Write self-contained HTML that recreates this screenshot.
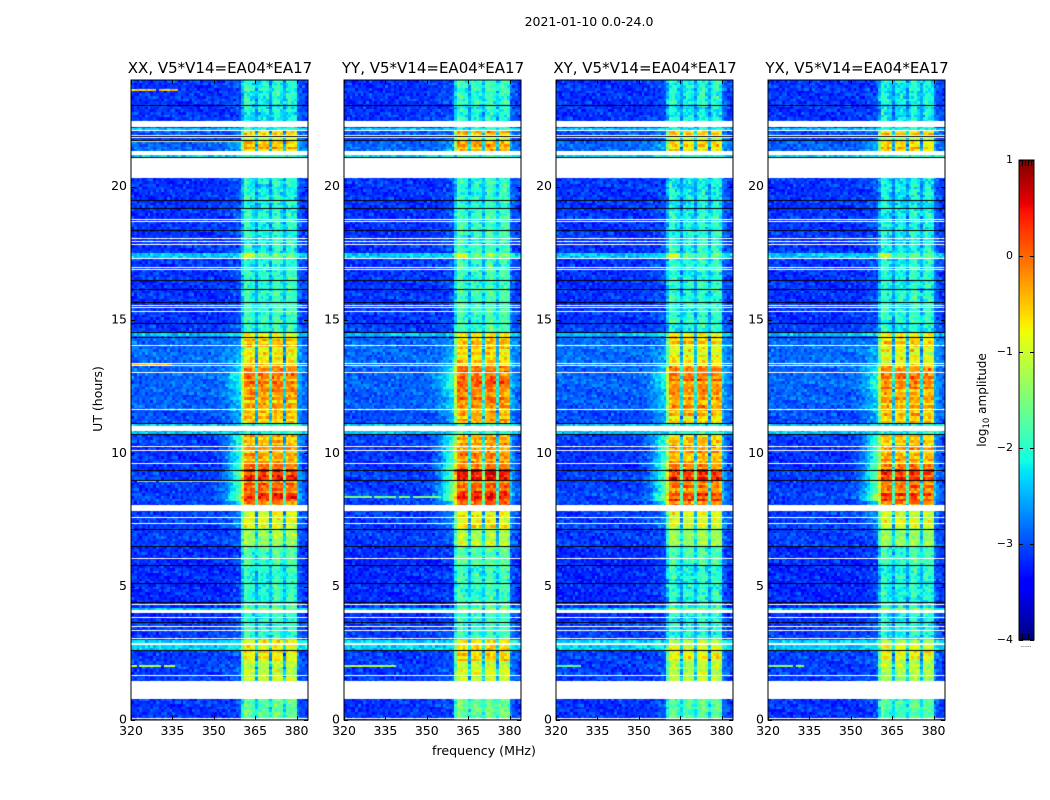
<!DOCTYPE html>
<html lang="en">
<head>
<meta charset="utf-8">
<title>2021-01-10 0.0-24.0</title>
<style>
  html, body { margin: 0; padding: 0; background: #fff; }
  #figure { position: relative; width: 1050px; height: 800px; overflow: hidden; background: #fff; }
  canvas { position: absolute; display: block; }
  #axes-layer { position: absolute; left: 0; top: 0; }
  text { font-family: "DejaVu Sans", "Liberation Sans", sans-serif; fill: #000; }
</style>
</head>
<body>
<div id="figure">
  <canvas id="panel-xx"></canvas>
  <canvas id="panel-yy"></canvas>
  <canvas id="panel-xy"></canvas>
  <canvas id="panel-yx"></canvas>
  <canvas id="colorbar"></canvas>
  <svg id="axes-layer" width="1050" height="800" xmlns="http://www.w3.org/2000/svg">
    <text x="589" y="26" font-size="12.5" text-anchor="middle">2021-01-10 0.0-24.0</text>
    <text x="484" y="755" font-size="12.6" text-anchor="middle">frequency (MHz)</text>
    <text transform="translate(102,399) rotate(-90)" font-size="12.5" text-anchor="middle">UT (hours)</text>
    <text transform="translate(986,400) rotate(-90)" font-size="12" text-anchor="middle">log<tspan font-size="8.5" dy="3">10</tspan><tspan dy="-3"> amplitude</tspan></text>
  </svg>
</div>
<script>
// ---- Panels ----
var panelIds = ['panel-xx', 'panel-yy', 'panel-xy', 'panel-yx'];
var panelTitles = ['XX, V5*V14=EA04*EA17', 'YY, V5*V14=EA04*EA17', 'XY, V5*V14=EA04*EA17', 'YX, V5*V14=EA04*EA17'];
var panelBandOffset = [0, 0.1, -0.05, -0.08];
var panelShoulderGain = [1, 1.2, 1.05, 1.15];

// ---- Ticks ----
var xTickValues = [320, 335, 350, 365, 380];
var yTickValues = [0, 5, 10, 15, 20];
var colorTickValues = [1, 0, -1, -2, -3, -4];

// ---- Time profile (hours, log10 amplitude) ----
var segmentEnd = [0.8, 1.45, 2.2, 2.63, 3.0, 3.66, 4.0, 4.22, 5.8, 6.54, 7.17, 8.02, 8.16, 8.53, 9.0, 9.36, 9.65, 10.3, 10.74, 11.14, 11.6, 12.4, 13.0, 13.35, 14.05, 14.38, 14.54, 14.87, 16.2, 17.33, 17.53, 19.2, 20.32, 21.1, 21.2, 21.33, 21.75, 21.88, 22.11, 22.23, 22.48, 23.1, 24];
var segmentBackground = [-3.13, -3.13, -3.08, -3.08, -2.35, -3.08, -3.18, -2.4, -3.18, -3.18, -3.08, -3.08, -3.08, -3.03, -3.08, -3.08, -3.13, -3.13, -3.08, -2.4, -3.0, -2.92, -2.88, -2.88, -2.85, -2.85, -2.4, -3.08, -3.13, -3.13, -2.4, -3.13, -3.13, -3.08, -2.3, -3.08, -2.9, -3.08, -2.98, -2.4, -3.08, -3.13, -3.13];
var segmentBand = [-1.7, -1.6, -1.15, -0.8, -0.9, -2.0, -2.05, -1.4, -2.0, -1.8, -1.3, -0.95, -0.2, 0.25, -0.1, 0.3, -0.1, -0.4, -0.5, -2.0, -0.55, -0.35, -0.15, -0.2, -0.8, -0.6, -0.95, -2.0, -1.95, -2.0, -1.6, -2.05, -2.1, -2.1, -2.0, -1.0, -0.6, -1.2, -0.55, -2.1, -2.1, -2.15, -2.05];
var segmentShoulder = [0, 0, 0, 0, 0, 0, 0, 0, 0, 0, 0, 0.2, 0.5, 1.2, 1.0, 1.0, 1.0, 0.9, 0.8, 0, 0.25, 0.4, 0.6, 0.4, 0.15, 0, 0, 0, 0, 0, 0, 0, 0, 0, 0, 0, 0.2, 0, 0, 0, 0, 0, 0];
var segmentFirstGroupBoost = [0, 0, 0, 0, 0, 0, 0, 0, 0, 0, 0, 0, 0, 0, 0, 0, 0, 0, 0, 0, 0, 0, 0, 0, 0, 0, 0, 0, 0, 0, 0.6, 0, 0, 0, 0, 0, 0.1, 0, 0, 0, 0, 0, 0];

// ---- Channel profile (1 MHz channels from 320 MHz) ----
var channelBright = [-0.9, 0, 0.05, 0.1, 0, -1.9, 0, 0.05, 0.05, -0.05, -1.8, 0, 0.1, 0.1, 0, -2.0, 0, 0, 0, -0.1];
var channelQuiet = [-0.4, 0.15, 0.1, -0.05, -0.15, -0.5, -0.1, 0, 0, -0.1, -0.45, -0.05, 0.15, 0.15, -0.1, -0.4, -0.05, 0.1, 0.1, -0.05];
var shoulderProfile = [0.03, 0.06, 0.1, 0.17, 0.26, 0.37, 0.5, 0.65, 0.8, 0.9];
var rightEdgeLift = [0.3, 0.18, 0.08, 0.03];

// ---- Row streaks seen across the bright band (log10 offset) ----
var rowStreaks = [0.1, -0.15, 0.2, 0.05, -0.25, 0.15, -0.05, 0.25, -0.2, 0.1, 0, -0.3, 0.2, -0.1, 0.05, 0.25, -0.15, -0.05, 0.15, -0.25, 0.1, 0.2, -0.1, 0, -0.2, 0.3, -0.05];

// ---- Flagged data and dropouts (hours) ----
var flagStart = [0.8, 2.8, 4.0, 7.83, 10.82, 20.32, 21.2, 22.23];
var flagEnd = [1.45, 2.9, 4.11, 8.02, 11.04, 21.1, 21.33, 22.48];
var whiteLines = [0.08, 1.48, 1.68, 3.08, 3.36, 3.54, 3.88, 4.36, 6.08, 7.38, 7.63, 8.08, 9.64, 10.13, 10.28, 11.67, 13.06, 13.32, 13.4, 14.05, 15.35, 15.5, 15.57, 16.92, 16.98, 17.33, 17.86, 17.97, 18.07, 18.7, 18.79, 21.88, 21.94, 22.11];
var blackLines = [2.63, 3.66, 4.42, 5.14, 5.82, 6.54, 7.17, 9.01, 9.36, 10.74, 11.14, 14.38, 14.54, 14.87, 15.68, 16.18, 16.51, 18.38, 19.21, 19.51, 21.12, 21.75, 21.9, 23.07];

// ---- Narrow interference rows: panel, hour, first channel, last channel, value ----
var rfiPanel = [0, 1, 2, 3, 0, 1, 0, 0, 0];
var rfiHour = [2.05, 2.05, 2.05, 2.05, 13.4, 8.4, 9.0, 23.68, 21.75];
var rfiFirst = [0, 0, 0, 0, 0, 0, 2, 0, 0];
var rfiLast = [15, 18, 8, 12, 14, 34, 36, 16, 39];
var rfiValue = [-1.1, -1.2, -1.7, -1.4, -0.4, -1.5, -1.5, -0.5, -0.8];

// ---- Hand-estimated fine grain, indicative of the reference speckle (not cell-exact) ----
var speckleRows = [
  '41708362951740628315947', '72946015382769104857326', '15839274061538297460183',
  '68210593748206915372640', '30975146820473651928705', '94162738059316284710593',
  '27580419367052948136274', '51394862703718250649381', '83026175949361407582916',
  '16749308251984736205148', '49281573604127593860372', '75610942838540162973054',
  '02837416595263801749628', '68495127030816794352160', '31726984559047382615809',
  '97051362846721053986247', '24683710195838426107953'
];

var PLOT_TOP = 80, PLOT_H = 640, PLOT_W = 177;
var panelLeft = [131, 344, 556, 768];
var CB_LEFT = 1019, CB_TOP = 160, CB_W = 15, CB_H = 480;

function xScale(mhz, left) { return left + (mhz - 320) * (PLOT_W - 0.4) / 64; }
function yScale(hour) { return PLOT_TOP + PLOT_H - hour * PLOT_H / 24; }
function colorPosition(v) { return CB_TOP + (1 - v) * CB_H / 5; }

function interp(t, pts) {
  for (var i = 1; i < pts.length; i++) {
    if (t <= pts[i][0]) {
      var a = pts[i - 1], b = pts[i];
      return a[1] + (b[1] - a[1]) * (t - a[0]) / (b[0] - a[0]);
    }
  }
  return pts[pts.length - 1][1];
}
var jetR = [[0, 0], [0.35, 0], [0.66, 1], [0.89, 1], [1, 0.5]];
var jetG = [[0, 0], [0.125, 0], [0.375, 1], [0.64, 1], [0.91, 0], [1, 0]];
var jetB = [[0, 0.5], [0.11, 1], [0.34, 1], [0.65, 0], [1, 0]];
function colorScale(v) {
  var t = Math.max(0, Math.min(1, (v + 4) / 5));
  return 'rgb(' + Math.round(255 * interp(t, jetR)) + ',' + Math.round(255 * interp(t, jetG)) + ',' + Math.round(255 * interp(t, jetB)) + ')';
}

function segmentIndex(hour) {
  for (var i = 0; i < segmentEnd.length; i++) { if (hour < segmentEnd[i]) return i; }
  return segmentEnd.length - 1;
}
function grainDigit(row, ch, panel) {
  var s = speckleRows[(row * 5 + ch * 3 + panel * 5) % speckleRows.length];
  return s.charCodeAt((ch * 7 + panel * 7 + row * 11) % s.length) - 48;
}
function speckle(row, ch, panel) {
  var a = grainDigit(row, ch, panel);
  var b = grainDigit(row + 6, ch + 13, panel + 1);
  return (a + b - 9) * 0.04;
}
function cellValue(panel, row, ch) {
  var hour = (row + 0.5) / 10;
  var i = segmentIndex(hour);
  var bg = segmentBackground[i];
  var band = segmentBand[i] + panelBandOffset[panel];
  var grain = speckle(row, ch, panel);
  var v;
  if (ch >= 40 && ch < 60) {
    var bi = ch - 40;
    var mix = Math.max(0, Math.min(1, (band + 1.6) / 0.8));
    var off = channelBright[bi] * mix + channelQuiet[bi] * (1 - mix);
    if (bi < 5) off += segmentFirstGroupBoost[i];
    var streak = rowStreaks[(row + panel * 3) % rowStreaks.length] * (0.25 + 0.75 * mix);
    v = Math.max(band + off + streak, bg + 0.2) + grain * 1.2;
  } else if (ch >= 60) {
    v = bg + rightEdgeLift[ch - 60] * (1 + segmentShoulder[i]) + grain;
  } else {
    v = bg + grain;
    if (ch >= 30) {
      var s = segmentShoulder[i] * panelShoulderGain[panel];
      v += shoulderProfile[ch - 30] * s * 1.25;
      v += shoulderProfile[ch - 30] * 0.15;
    }
  }
  return v;
}

function drawPanel(panel) {
  var c = document.getElementById(panelIds[panel]);
  var left = panelLeft[panel];
  c.width = PLOT_W; c.height = PLOT_H;
  c.style.left = left + 'px';
  c.style.top = PLOT_TOP + 'px';
  var g = c.getContext('2d');
  for (var row = 0; row < 240; row++) {
    var y0 = Math.round(yScale((row + 1) / 10)) - PLOT_TOP;
    var y1 = Math.round(yScale(row / 10)) - PLOT_TOP;
    for (var ch = 0; ch < 64; ch++) {
      var x0 = Math.round(xScale(320 + ch, left)) - left;
      var x1 = Math.round(xScale(321 + ch, left)) - left;
      g.fillStyle = colorScale(cellValue(panel, row, ch));
      g.fillRect(x0, y0, x1 - x0, y1 - y0);
    }
  }
  // thin dashed interference rows
  for (var k = 0; k < rfiHour.length; k++) {
    if (rfiPanel[k] !== panel) continue;
    var ry = Math.round(yScale(rfiHour[k])) - PLOT_TOP;
    for (var rc = rfiFirst[k]; rc <= rfiLast[k]; rc++) {
      var rg = speckle(ry, rc, panel);
      if (rg < -0.25) continue;
      var rx0 = Math.round(xScale(320 + rc, left)) - left;
      var rx1 = Math.round(xScale(321 + rc, left)) - left;
      g.fillStyle = colorScale(rfiValue[k] + rg);
      g.fillRect(rx0, ry, rx1 - rx0, 2);
    }
  }
  g.fillStyle = '#fff';
  for (var f = 0; f < flagStart.length; f++) {
    var ft = Math.round(yScale(flagEnd[f])) - PLOT_TOP;
    g.fillRect(0, ft, PLOT_W, Math.round(yScale(flagStart[f])) - PLOT_TOP - ft);
  }
  for (var w = 0; w < whiteLines.length; w++) {
    g.fillRect(0, Math.round(yScale(whiteLines[w])) - PLOT_TOP, PLOT_W, 1);
  }
  g.fillStyle = '#000';
  for (var b = 0; b < blackLines.length; b++) {
    g.fillRect(0, Math.round(yScale(blackLines[b])) - PLOT_TOP, PLOT_W, 1);
  }
}

function drawColorbar() {
  var c = document.getElementById('colorbar');
  c.width = CB_W; c.height = CB_H;
  c.style.left = CB_LEFT + 'px';
  c.style.top = CB_TOP + 'px';
  var g = c.getContext('2d');
  for (var i = 0; i < CB_H; i++) {
    g.fillStyle = colorScale(1 - (i + 0.5) * 5 / CB_H);
    g.fillRect(0, i, CB_W, 1);
  }
}

var svg = document.getElementById('axes-layer');
var NS = 'http://www.w3.org/2000/svg';
function addLine(x1, y1, x2, y2) {
  var el = document.createElementNS(NS, 'line');
  el.setAttribute('x1', x1);
  el.setAttribute('y1', y1);
  el.setAttribute('x2', x2);
  el.setAttribute('y2', y2);
  el.setAttribute('stroke', '#000');
  el.setAttribute('stroke-width', '1');
  svg.appendChild(el);
  return el;
}
function addText(x, y, size, anchor, str) {
  var el = document.createElementNS(NS, 'text');
  el.setAttribute('x', x);
  el.setAttribute('y', y);
  el.setAttribute('font-size', size);
  el.setAttribute('text-anchor', anchor);
  el.textContent = str;
  svg.appendChild(el);
  return el;
}
function addFrame(x, y, w, h) {
  var el = document.createElementNS(NS, 'rect');
  el.setAttribute('x', x);
  el.setAttribute('y', y);
  el.setAttribute('width', w);
  el.setAttribute('height', h);
  el.setAttribute('fill', 'none');
  el.setAttribute('stroke', '#000');
  el.setAttribute('stroke-width', '1');
  svg.appendChild(el);
  return el;
}

panelIds.forEach(function (id, p) {
  drawPanel(p);
  var left = panelLeft[p];
  var frame = addFrame(left, PLOT_TOP, PLOT_W, PLOT_H);
  
  
  var title = addText(left + PLOT_W / 2 + 0.5, 73, 15, 'middle', panelTitles[p]);
  
  
  xTickValues.forEach(function (v) {
    var x = Math.round(xScale(v, left)) + 0.5;
    var tickBottom = addLine(x, PLOT_TOP + PLOT_H, x, PLOT_TOP + PLOT_H - 4);
    
    
    var tickTop = addLine(x, PLOT_TOP, x, PLOT_TOP + 4);
    
    
    var label = addText(xScale(v, left), 735, 12.5, 'middle', String(v));
    
    
  });
  yTickValues.forEach(function (v) {
    var y = Math.round(yScale(v)) + 0.5;
    var tickLeft = addLine(left, y, left + 4, y);
    
    
    var tickRight = addLine(left + PLOT_W, y, left + PLOT_W - 4, y);
    
    
    var label = addText(left - 4, yScale(v) + 3.5, 12.5, 'end', String(v));
    
    
  });
});

drawColorbar();
var cbFrame = addFrame(CB_LEFT, CB_TOP, CB_W, CB_H);


colorTickValues.forEach(function (v) {
  var y = Math.round(colorPosition(v)) + 0.5;
  var tl = addLine(CB_LEFT, y, CB_LEFT + 4, y);
  
  
  var tr = addLine(CB_LEFT + CB_W, y, CB_LEFT + CB_W - 4, y);
  
  
  var label = addText(1013, colorPosition(v) + 3, 11, 'end', (v < 0 ? '\u2212' + (-v) : String(v)));
  
  
});
for (var m = 1; m <= 4; m++) {
  var mx = CB_LEFT + m * 3 + 0.5;
  var mt = addLine(mx, CB_TOP, mx, CB_TOP + 6);
  
  
  var mb = addLine(mx, CB_TOP + CB_H, mx, CB_TOP + CB_H - 6);
  
  
}
var dots = addText(1026, 647, 6, 'middle', '......');
dots.setAttribute('fill', '#777');


</script>
</body>
</html>
